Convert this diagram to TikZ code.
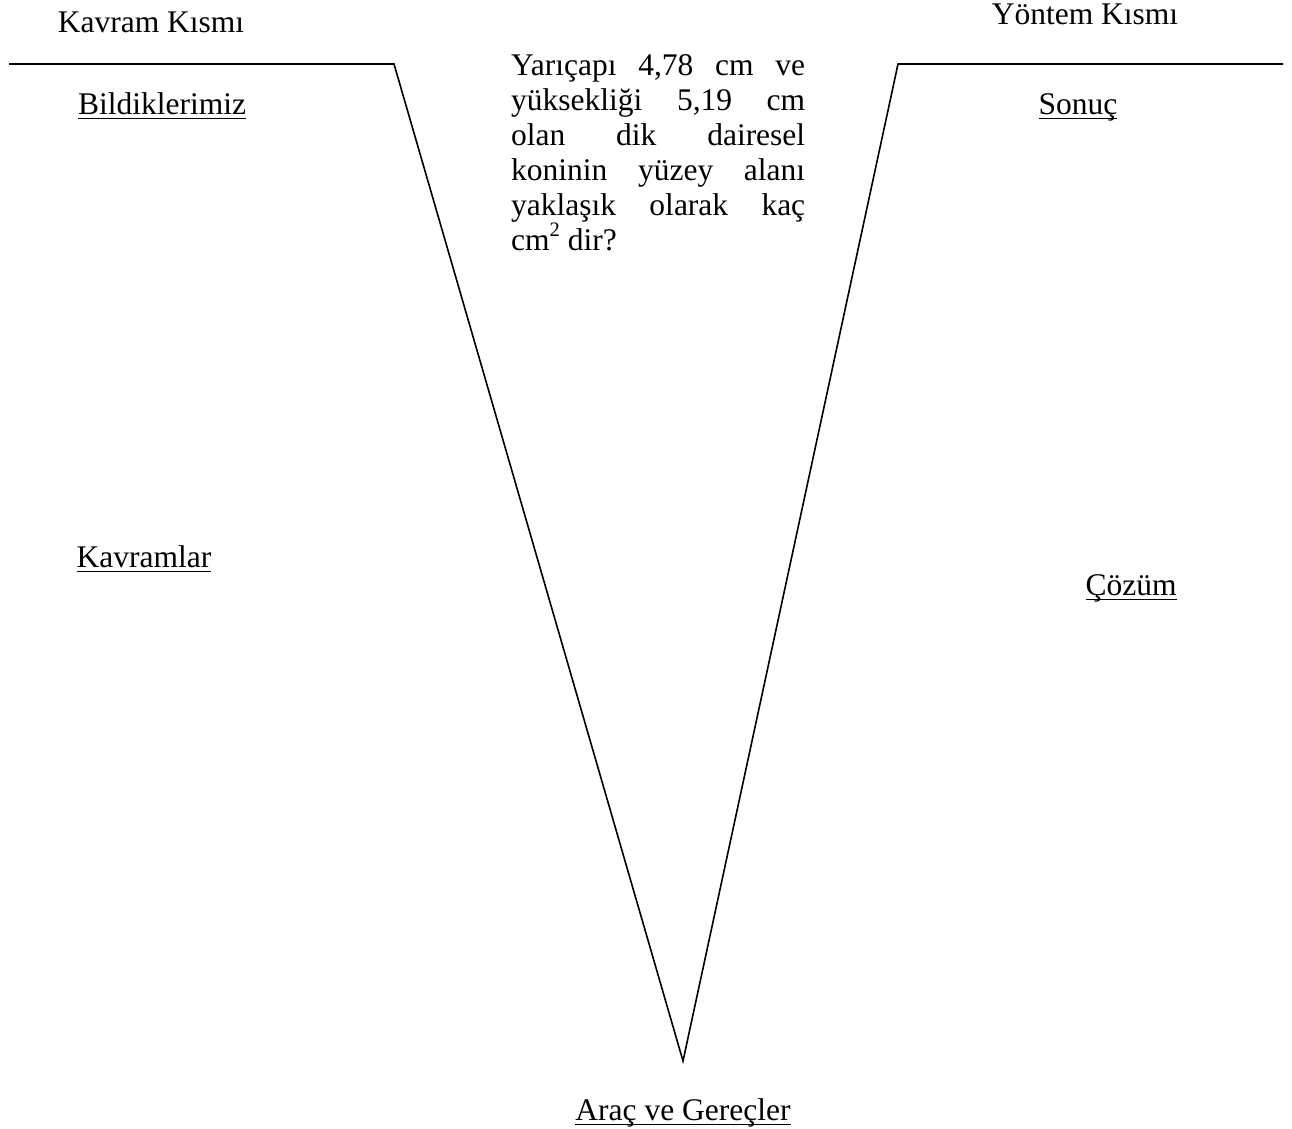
\documentclass[tikz,border=0pt]{standalone}
\usepackage{fontspec}
\setmainfont{Liberation Serif}
% underline at a fixed depth below the baseline, independent of descenders
\newcommand\ulword[1]{\setbox0\hbox{#1}\rlap{\vrule height -3.5pt depth 5.2pt width \wd0}\box0}
% raised superscript digit
\newcommand\supdigit[1]{\raisebox{0.42em}{\fontsize{20.5}{20.5}\selectfont #1}}
\begin{document}
\begin{tikzpicture}[x=1pt,y=-1pt,
  lbl/.style={inner sep=0pt, anchor=base, font=\fontsize{31.5}{35}\selectfont},
  vline/.style={line width=1.6pt, line join=miter}]
\useasboundingbox (0,0) rectangle (1292,1128);

% the V outline
\coordinate (lstart) at (9,64);
\coordinate (lcorner) at (394,64);
\coordinate (apex) at (683,1061);
\coordinate (rcorner) at (898,64);
\coordinate (rend) at (1283,64);
\draw[vline] (lstart) -- (lcorner) -- (apex) -- (rcorner) -- (rend);

% section headings
\node[lbl] (kavramkismi) at (151,32) {Kavram Kısmı};
\node[lbl] (yontemkismi) at (1085,24) {Yöntem Kısmı};

% underlined labels
\node[lbl] (bildiklerimiz) at (162,114) {\ulword{Bildiklerimiz}};
\node[lbl] (kavramlar) at (144,567) {\ulword{Kavramlar}};
\node[lbl] (sonuc) at (1078,114) {\ulword{Sonuç}};
\node[lbl] (cozum) at (1131,595) {\ulword{Çözüm}};
\node[lbl] (arac) at (683,1120) {\ulword{Araç ve Gereçler}};

% the question
\node[lbl, anchor=base west] (soru) at (511,75) {\parbox[t]{294pt}{%
  \baselineskip=35pt
  \hbox to \linewidth{Yarıçapı\hfill 4,78\hfill cm\hfill ve}
  \hbox to \linewidth{yüksekliği\hfill 5,19\hfill cm}
  \hbox to \linewidth{olan\hfill dik\hfill dairesel}
  \hbox to \linewidth{koninin\hfill yüzey\hfill alanı}
  \hbox to \linewidth{yaklaşık\hfill olarak\hfill kaç}
  \hbox to \linewidth{cm\supdigit{2} dir?\hfill}}};
\end{tikzpicture}
\end{document}
